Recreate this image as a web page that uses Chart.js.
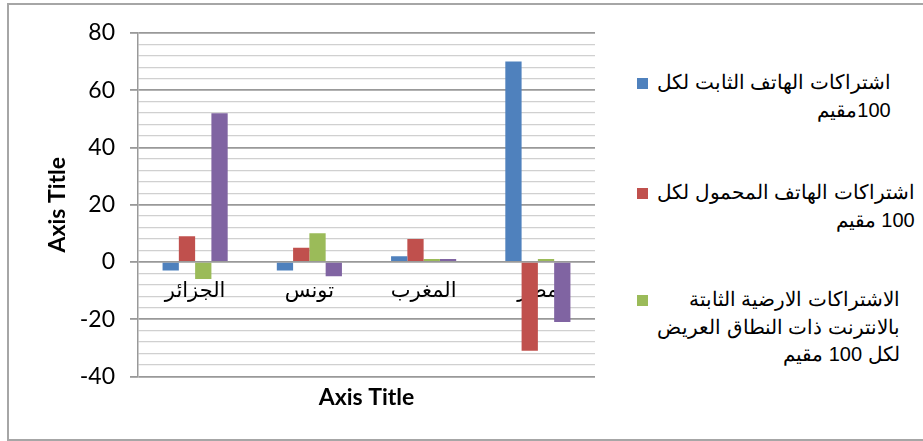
<!DOCTYPE html>
<html>
<head>
<meta charset="utf-8">
<script src="https://cdn.jsdelivr.net/npm/chart.js@4.4.0/dist/chart.umd.min.js"></script>
<style>
  body { margin: 0; width: 923px; height: 441px; overflow: hidden; background: #fff; position: relative; }
  .frame { position: absolute; left: 7px; top: 3px; width: 940px; height: 434px; border: 2px solid #a6a6a6; }
  .plot { position: absolute; left: 0; top: 0; width: 620px; height: 441px; }
  #legend { position: absolute; left: 637px; top: 0; font: 20px "Liberation Sans", Arial, sans-serif; color: #000; }
  .item { position: absolute; left: 0; display: flex; direction: ltr; align-items: flex-start; white-space: nowrap; }
  .swatch { width: 11px; height: 11px; margin-top: 9px; margin-right: 9px; flex: none; }
  .text { direction: rtl; text-align: right; line-height: 27.5px; }
</style>
</head>
<body>
<div class="frame"></div>
<div class="plot"><canvas id="chart" width="620" height="441"></canvas></div>
<div id="legend"></div>
<script>
const categories = ["الجزائر", "تونس", "المغرب", "مصر"];
const fixedPhone = [-3, -3, 2, 70];
const mobilePhone = [9, 5, 8, -31];
const broadband = [-6, 10, 1, 1];
const internetUsers = [52, -5, 1, -21];
const seriesNames = [
  ["اشتراكات الهاتف الثابت لكل", "100مقيم"],
  ["اشتراكات الهاتف المحمول لكل", "100 مقيم"],
  ["الاشتراكات الارضية الثابتة", "بالانترنت ذات النطاق العريض", "لكل 100 مقيم"],
  ["مستخدمو الانترنت لكل 100 مقيم"],
];
const axisTitle = "Axis Title";
const yMin = -40;
const yMax = 80;

// only the first three series are listed in the legend of the original
const legendTops = [69, 179, 286];
const colors = ["#4f81bd", "#c0504d", "#9bbb59", "#8064a2"];

const isMajor = (v) => v % 20 === 0;

const ctx = document.getElementById("chart").getContext("2d");
const chart = new Chart(ctx, {
  type: "bar",
  data: {
    labels: categories,
    datasets: [fixedPhone, mobilePhone, broadband, internetUsers].map((values, i) => ({
      label: seriesNames[i].join(" "),
      data: values,
      backgroundColor: colors[i],
      borderWidth: 0,
      categoryPercentage: 0.57,
      barPercentage: 1,
    })),
  },
  options: {
    responsive: false,
    animation: false,
    layout: { padding: { top: 33, right: 25, left: 0, bottom: 0 } },
    plugins: {
      legend: { display: false },
      tooltip: { enabled: false },
      title: {
        display: true,
        text: axisTitle,
        position: "bottom",
        fullSize: false,
        color: "#000",
        font: { family: "Lato", size: 23, weight: "bold" },
        padding: { top: 7, bottom: 30 },
      },
    },
    scales: {
      x: {
        position: { y: 0 },
        grid: { display: false, drawTicks: false },
        border: { display: false },
        ticks: {
          color: "#000",
          font: { family: "'DejaVu Sans', sans-serif", size: 21 },
          padding: 17,
          maxRotation: 0,
          autoSkip: false,
        },
      },
      y: {
        min: yMin,
        max: yMax,
        afterFit: (scale) => { scale.width = 138; },
        border: { color: "#999", width: 1.5 },
        grid: {
          color: (c) => (isMajor(c.tick.value) ? "#999" : "#d0d0d0"),
          tickColor: (c) => (isMajor(c.tick.value) ? "#999" : "rgba(0,0,0,0)"),
          lineWidth: (c) => (isMajor(c.tick.value) ? 1.8 : 1.3),
          tickLength: 8,
        },
        ticks: {
          stepSize: 4,
          autoSkip: false,
          color: "#000",
          font: { family: "Lato", size: 23 },
          padding: 15,
          callback: (v) => (isMajor(v) ? v : ""),
        },
        title: {
          display: true,
          text: axisTitle,
          color: "#000",
          font: { family: "Lato", size: 23, weight: "bold" },
          padding: { top: 44, bottom: 0 },
        },
      },
    },
  },
});

const legendEl = document.getElementById("legend");
chart.data.datasets.slice(0, 3).forEach((ds, i) => {
  const item = document.createElement("div");
  item.className = "item";
  item.style.top = legendTops[i] + "px";
  const sw = document.createElement("div");
  sw.className = "swatch";
  sw.style.background = ds.backgroundColor;
  const txt = document.createElement("div");
  txt.className = "text";
  seriesNames[i].forEach((line) => {
    const row = document.createElement("div");
    row.textContent = line;
    txt.appendChild(row);
  });
  item.appendChild(sw);
  item.appendChild(txt);
  legendEl.appendChild(item);
});
</script>
</body>
</html>
